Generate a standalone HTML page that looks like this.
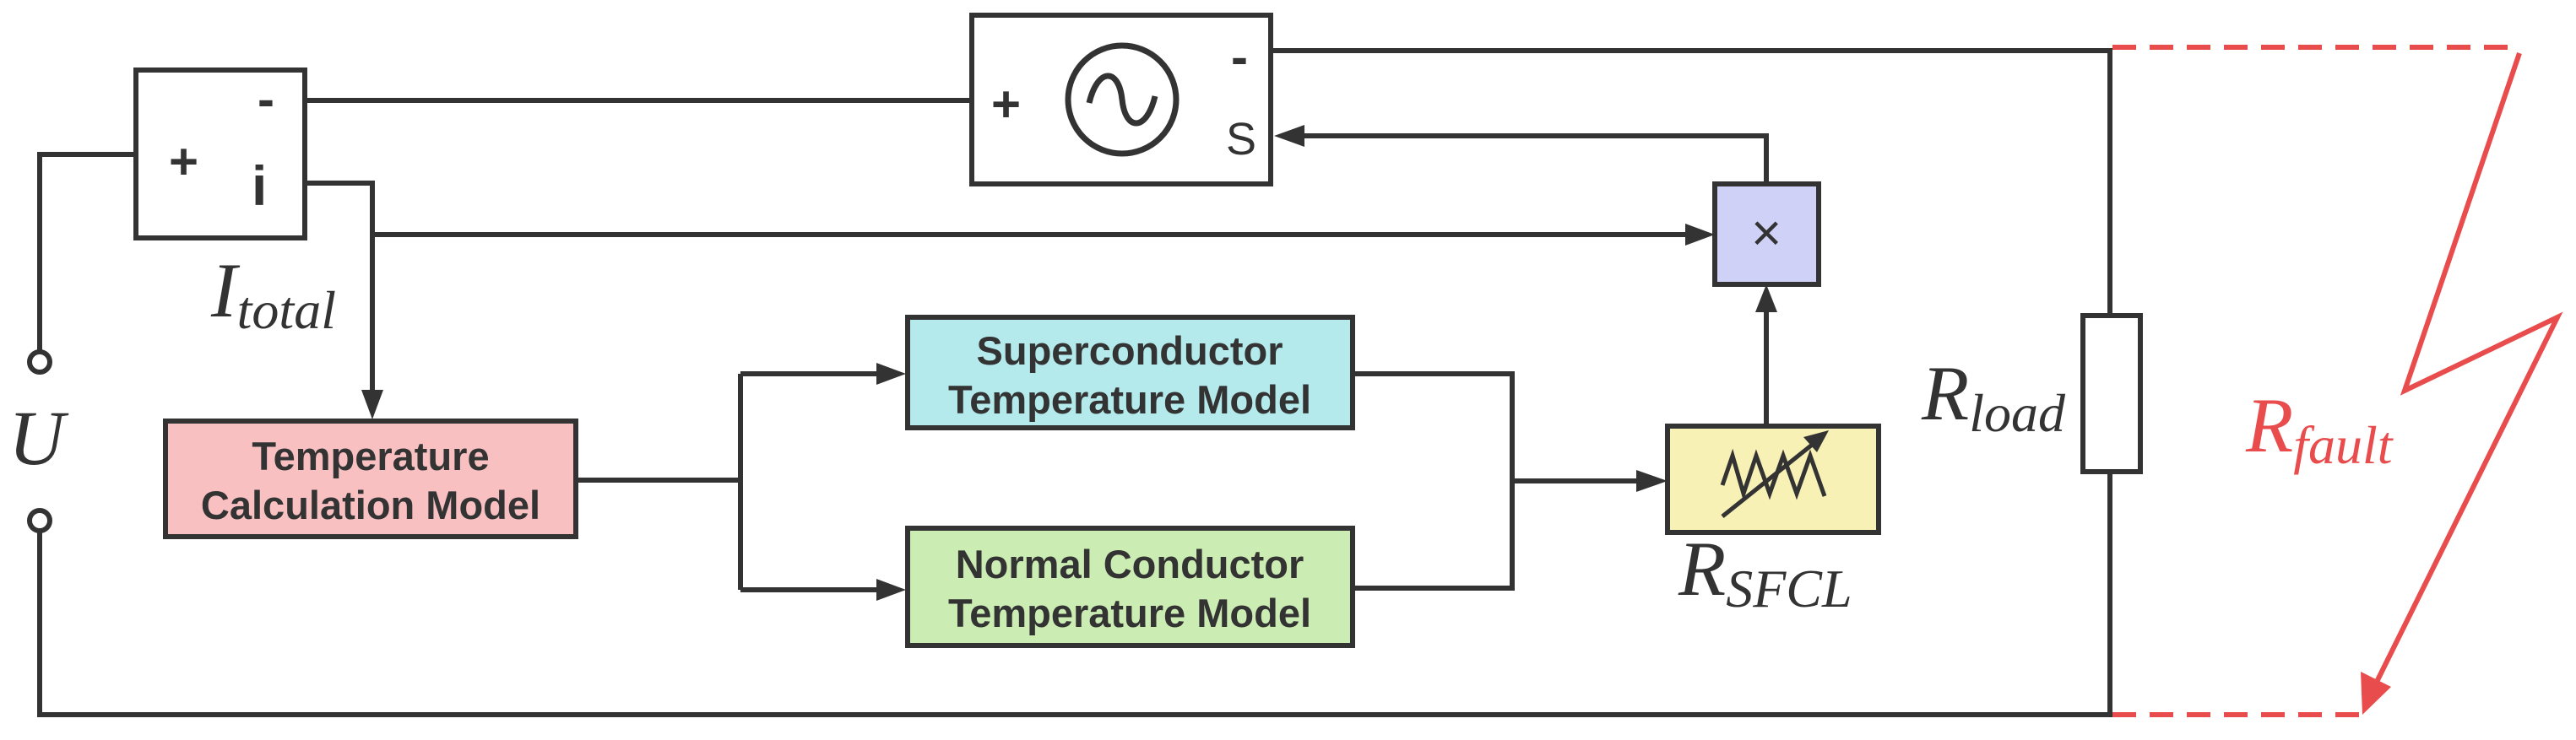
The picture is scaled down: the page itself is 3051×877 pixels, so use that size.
<!DOCTYPE html>
<html><head><meta charset="utf-8"><style>
html,body{margin:0;padding:0;background:#fff}
svg{display:block}
.b{font-family:"Liberation Sans",Arial,sans-serif;font-weight:bold;font-size:47px;fill:#333}
.m{font-family:"Liberation Serif",serif;font-style:italic;fill:#333}
</style></head><body>
<svg width="3051" height="877" viewBox="0 0 3051 877" xmlns="http://www.w3.org/2000/svg">
<g stroke="#333" stroke-width="6" fill="none">
<rect x="161" y="83" width="200" height="199" fill="#fff"/>
<rect x="1151" y="18" width="354" height="200" fill="#fff"/>
<circle cx="1329" cy="118" r="64" stroke-width="7"/>
<path d="M1290 122 C1300 80,1325 80,1329 118 C1333 156,1358 156,1368 114" stroke-width="7"/>
<path d="M361 119 H1151"/>
<path d="M161 183 H47 V417"/>
<circle cx="47" cy="429" r="12" fill="#fff"/>
<circle cx="47" cy="617" r="12" fill="#fff"/>
<path d="M47 629 V847 H2499 V559"/>
<path d="M1505 60 H2499 V374"/>
<rect x="2467" y="374" width="68" height="185" fill="#fff"/>
<path d="M361 217 H441 V470"/>
<path d="M441 278 H2000"/>
<path d="M2092 218 V161 H1545"/>
<path d="M2092 505 V365"/>
<path d="M682 569 H877"/>
<path d="M877 443 V699"/>
<path d="M877 443 H1040"/>
<path d="M877 699 H1040"/>
<path d="M1602 443 H1791 V697 H1602"/>
<path d="M1791 570 H1940"/>
<rect x="196" y="499" width="486" height="137" fill="#f8c0c1"/>
<rect x="1075" y="376" width="527" height="131" fill="#b4eaec"/>
<rect x="1075" y="626" width="527" height="139" fill="#cbedb3"/>
<rect x="2031" y="218" width="123" height="119" fill="#cfd2f6"/>
<rect x="1975" y="505" width="250" height="126" fill="#f8f1b5"/>
<path d="M2040 575 L2052 540 L2065 585 L2080 540 L2096 585 L2112 540 L2128 585 L2144 540 L2161 588" stroke-width="5"/>
<path d="M2040 612 L2155 520" stroke-width="5"/>
</g>
<g fill="#333">
<polygon points="441,497 428,462 454,462"/>
<polygon points="1073,443 1038,430 1038,456"/>
<polygon points="1073,699 1038,686 1038,712"/>
<polygon points="2031,278 1996,265 1996,291"/>
<polygon points="1509,161 1545,148 1545,174"/>
<polygon points="2092,337 2079,370 2105,370"/>
<polygon points="1975,570 1938,557 1938,583"/>
<polygon points="2166,510 2136,518 2152,536"/>
</g>
<g stroke="#e84c4c" stroke-width="6" fill="none">
<path d="M2502 56 H2982" stroke-dasharray="28,16"/>
<path d="M2502 847 H2798" stroke-dasharray="28,16"/>
<path d="M2984 63 L2848 463 L3029 376 L2815 808"/>
</g>
<polygon points="2798,847 2796,796 2832,814" fill="#e84c4c"/>
<text x="200" y="212" class="b" style="font-size:60px">+</text>
<text x="305" y="138" class="b" style="font-size:60px">-</text>
<text x="298" y="243" class="b" style="font-size:66px">i</text>
<text x="1174" y="144" class="b" style="font-size:60px">+</text>
<text x="1458" y="88" class="b" style="font-size:60px">-</text>
<text x="1452" y="183" style="font-family:'Liberation Sans',sans-serif;font-size:54px;fill:#333">S</text>
<text x="2074" y="297" style="font-family:'Liberation Sans',sans-serif;font-size:62px;fill:#333">×</text>
<text x="439" y="557" class="b" text-anchor="middle">Temperature</text>
<text x="439" y="615" class="b" text-anchor="middle">Calculation Model</text>
<text x="1338" y="432" class="b" text-anchor="middle">Superconductor</text>
<text x="1338" y="490" class="b" text-anchor="middle">Temperature Model</text>
<text x="1338" y="685" class="b" text-anchor="middle">Normal Conductor</text>
<text x="1338" y="743" class="b" text-anchor="middle">Temperature Model</text>
<text x="250" y="375" class="m" style="font-size:92px">I<tspan dy="14" style="font-size:64px">total</tspan></text>
<text x="10" y="550" class="m" style="font-size:92px">U</text>
<text x="2276" y="497" class="m" style="font-size:92px">R<tspan dy="14" style="font-size:64px">load</tspan></text>
<text x="1988" y="705" class="m" style="font-size:92px">R<tspan dy="14" style="font-size:64px">SFCL</tspan></text>
<text x="2660" y="535" class="m" style="font-size:92px;fill:#e84c4c">R<tspan dy="14" style="font-size:64px">fault</tspan></text>
</svg>
</body></html>
